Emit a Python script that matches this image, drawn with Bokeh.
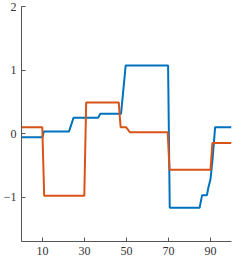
from bokeh.plotting import figure
from bokeh.models import FixedTicker, Range1d
from bokeh.embed import file_html
from bokeh.resources import INLINE

# Blue series (breakpoints)
blue_x = [0, 10, 10.6, 22.6, 24.8, 36.5, 37.5, 47.4, 49.6, 69.8, 70.6, 84.8, 86, 88.3, 89, 90, 91, 92.2, 100]
blue_y = [-0.06, -0.06, 0.03, 0.03, 0.25, 0.25, 0.31, 0.31, 1.07, 1.07, -1.17, -1.17, -0.97, -0.97, -0.85, -0.72, -0.4, 0.1, 0.1]

# Orange series
orange_x = [0, 9.9, 10.8, 29.9, 30.8, 46.3, 47.2, 49.8, 51.6, 69.6, 70.5, 90, 90.9, 100]
orange_y = [0.1, 0.1, -0.98, -0.98, 0.49, 0.49, 0.1, 0.1, 0.02, 0.02, -0.57, -0.57, -0.15, -0.15]

x_ticks = [10, 30, 50, 70, 90]
y_ticks = [-1, 0, 1, 2]
y_labels = {-1: "\u22121", 0: "0", 1: "1", 2: "2"}

p = figure(width=233, height=257, output_backend="svg", toolbar_location=None,
           x_range=Range1d(0, 100), y_range=Range1d(-1.7, 2),
           min_border_left=4, min_border_right=2, min_border_top=6, min_border_bottom=0)

p.line(blue_x, blue_y, line_color="#0072BD", line_width=2)
p.line(orange_x, orange_y, line_color="#D95319", line_width=2)

p.grid.visible = False
p.outline_line_color = None
p.background_fill_color = "white"
p.border_fill_color = "white"

for ax in (p.xaxis[0], p.yaxis[0]):
    ax.axis_line_color = "#555555"
    ax.major_tick_line_color = "#555555"
    ax.major_tick_in = 4
    ax.major_tick_out = 0
    ax.minor_tick_line_color = None
    ax.major_label_text_font = "serif"
    ax.major_label_text_font_size = "12px"
    ax.major_label_text_color = "#333333"
    ax.major_label_standoff = 5

p.xaxis[0].ticker = FixedTicker(ticks=x_ticks)
p.yaxis[0].ticker = FixedTicker(ticks=y_ticks)
p.yaxis[0].major_label_overrides = y_labels

open("out.html", "w").write(file_html(p, INLINE))
